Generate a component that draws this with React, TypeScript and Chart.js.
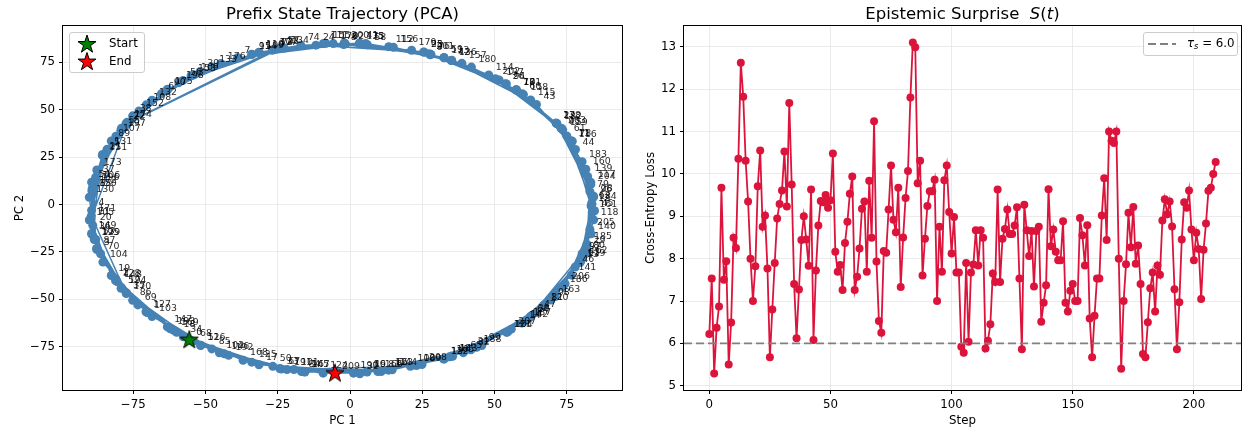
import React, { useEffect, useRef } from "react";
import { Chart, registerables } from "chart.js";

Chart.register(...registerables);

const FONT = '"DejaVu Sans", sans-serif';

// ---------------- data ----------------
const SURPRISE = [
  6.22, 7.53, 5.29, 6.37, 6.87, 9.67, 7.5, 7.94, 5.5, 6.49,
  8.49, 8.25, 10.36, 12.62, 11.82, 10.31, 9.35, 8.0, 7.0, 7.82,
  9.71, 10.55, 8.75, 9.02, 7.77, 5.67, 6.8, 7.9, 8.95, 9.29,
  9.61, 10.53, 9.23, 11.67, 9.75, 7.4, 6.12, 7.27, 8.44, 9.0,
  8.45, 7.83, 9.63, 6.08, 7.72, 8.78, 9.36, 9.33, 9.5, 9.2,
  9.38, 10.48, 8.16, 7.69, 7.85, 7.26, 8.37, 8.87, 9.53, 9.94,
  7.26, 7.57, 8.24, 9.18, 9.35, 7.69, 9.84, 8.49, 11.24, 7.93,
  6.53, 6.25, 8.18, 8.14, 9.16, 10.2, 8.92, 8.62, 9.67, 7.33,
  8.5, 9.43, 10.07, 11.8, 13.1, 12.99, 9.78, 10.31, 7.6, 8.47,
  9.24, 9.59, 9.59, 9.86, 7.0, 8.75, 7.69, 9.85, 10.2, 9.1,
  8.12, 8.98, 7.67, 7.67, 5.92, 5.78, 7.9, 6.04, 7.67, 7.86,
  8.67, 7.84, 8.67, 8.49, 5.88, 6.06, 6.45, 7.65, 7.45, 9.63,
  7.45, 8.47, 8.7, 9.16, 8.58, 8.58, 8.78, 9.21, 7.53, 5.86,
  9.27, 8.67, 8.06, 8.65, 7.34, 8.65, 8.75, 6.51, 6.96, 7.37,
  9.64, 8.29, 8.69, 8.16, 7.96, 7.96, 8.88, 6.96, 6.75, 7.24,
  7.4, 7.0, 7.0, 8.96, 8.55, 7.84, 8.79, 6.59, 5.67, 6.65,
  7.53, 7.53, 9.02, 9.9, 8.44, 11.0, 10.78, 10.73, 11.0, 8.0,
  5.4, 7.0, 7.87, 9.08, 8.27, 9.22, 7.88, 8.31, 7.4, 5.75,
  5.67, 6.5, 7.3, 7.67, 6.75, 7.84, 7.62, 8.9, 9.4, 9.05,
  9.35, 8.76, 7.28, 5.86, 6.97, 8.45, 9.33, 9.2, 9.61, 8.69,
  7.96, 8.61, 8.23, 7.05, 8.21, 8.83, 9.6, 9.67, 10.0, 10.28,
];

const PC1 = [
  -55.6, -70.2, -81.0, -87.6, -89.4, -84.1, -65.3, -38.9, -2.2, 27.7,
  57.6, 76.5, 83.4, 79.6, 59.4, 32.6, 5.8, -31.5, -60.0, -82.6,
  -89.0, -85.6, -77.5, -24.2, -11.8, 25.6, 53.8, 71.4, 84.3, 81.8,
  62.5, 41.7, 3.4, -24.3, -57.7, -77.4, -89.3, -88.0, -75.2, -51.8,
  -26.8, 3.3, 35.0, 64.5, 78.0, 84.6, 77.9, 64.7, 35.2, 5.9,
  -26.7, -51.6, -79.2, -88.0, -89.4, -79.1, -57.8, -24.0, 6.0, 32.5,
  59.6, 75.0, 83.6, 79.9, 62.3, 39.2, 13.5, -23.8, -54.3, -73.4,
  -86.3, -89.6, -77.2, -26.2, -17.0, 5.4, 28.0, 57.4, 76.9, 83.0,
  81.7, 67.2, 41.8, 10.8, -16.8, -47.8, -75.2, -87.7, -89.1, -82.6,
  -63.4, -34.0, -1.6, 25.5, 54.1, 73.2, 84.2, 80.3, 69.5, 45.6,
  20.9, -19.4, -45.2, -68.5, -85.5, -90.2, -88.1, -81.0, -70.5, -54.0,
  -31.5, -9.2, 13.4, 32.6, 48.0, 62.5, 76.7, 83.3, 84.3, 79.8,
  67.0, 54.2, 32.4, 13.2, -9.3, -34.0, -51.7, -70.6, -81.1, -88.1,
  -90.2, -84.0, -68.5, -47.7, -22.8, 3.2, 35.2, 51.6, 71.3, 82.2,
  83.4, 76.6, 60.0, 35.5, 14.6, -15.8, -43.5, -63.2, -80.6, -89.4,
  -89.3, -85.7, -73.0, -55.0, -33.9, -8.4, 15.0, 38.7, 60.0, 73.6,
  81.6, 83.8, 80.5, 71.0, 54.6, 34.4, 9.6, -15.6, -37.0, -61.0,
  -77.4, -89.5, -89.2, -87.6, -77.1, -63.0, -44.7, -26.9, -5.8, 21.3,
  42.0, 57.5, 71.6, 80.3, 83.7, 82.0, 73.6, 61.0, 43.8, 23.0,
  1.2, -21.8, -42.0, -62.2, -79.0, -88.5, -88.4, -79.3, -59.2, -31.4,
  -2.0, 27.4, 50.3, 73.0, 83.3, 83.0, 74.4, 55.8, 24.9, -5.2,
];

const PC2 = [
  -71.6, -57.0, -39.6, -23.8, -3.1, 28.6, 58.4, 77.5, 84.4, 79.0,
  60.6, 33.7, -0.8, -30.6, -62.6, -81.5, -88.2, -84.6, -67.4, -37.5,
  -11.0, 26.4, 42.6, 82.3, 84.1, 80.4, 63.7, 42.8, 4.4, -23.2,
  -59.0, -76.4, -89.3, -86.6, -69.8, -46.6, -15.8, 14.4, 46.8, 70.2,
  81.5, 85.2, 76.0, 52.8, 29.0, -3.3, -33.0, -56.6, -80.0, -88.4,
  -85.4, -74.3, -44.2, -18.4, 11.8, 40.2, 65.5, 82.6, 84.3, 77.6,
  58.4, 36.2, 0.6, -29.4, -59.5, -78.2, -87.3, -86.8, -72.2, -53.0,
  -26.0, -7.5, 43.0, 81.7, 84.0, 84.9, 79.2, 60.4, 33.4, 6.8,
  -25.8, -53.0, -76.7, -88.2, -88.2, -76.2, -50.6, -23.2, 7.0, 33.5,
  60.5, 79.3, 84.8, 80.5, 63.6, 40.1, 3.8, -26.0, -50.4, -74.4,
  -85.4, -87.1, -78.3, -59.1, -30.4, -8.2, 11.5, 36.0, 52.6, 68.4,
  80.4, 85.0, 83.3, 77.4, 68.4, 55.2, 33.2, 11.7, -8.1, -30.0,
  -53.3, -67.5, -81.6, -87.4, -89.0, -83.2, -74.4, -56.6, -40.2, -18.6,
  3.8, 29.2, 55.0, 72.5, 82.6, 84.8, 76.1, 65.7, 43.0, 14.8,
  -15.5, -37.3, -62.1, -80.1, -87.2, -88.3, -78.8, -64.6, -40.7, -15.3,
  7.3, 25.9, 49.4, 67.9, 79.2, 85.1, 83.0, 74.5, 58.0, 39.4,
  18.6, -4.0, -28.0, -48.6, -67.2, -80.4, -88.2, -88.4, -82.2, -66.4,
  -47.0, -6.0, 8.5, 18.2, 43.4, 60.8, 74.4, 81.6, 84.9, 81.4,
  72.5, 60.5, 42.6, 22.6, 0.2, -21.0, -43.3, -61.0, -75.4, -85.0,
  -89.0, -87.1, -79.6, -65.6, -44.0, -18.5, 10.2, 39.0, 64.3, 80.2,
  85.2, 79.6, 66.4, 40.2, 10.6, -13.2, -41.8, -65.8, -84.5, -89.2,
];

const STEPS = SURPRISE.map((_, i) => i);
const TAU_S = 6.0;

const PCA_X_TICKS = [-75, -50, -25, 0, 25, 50, 75];
const PCA_Y_TICKS = [-75, -50, -25, 0, 25, 50, 75];
const STEP_TICKS = [0, 50, 100, 150, 200];
const LOSS_TICKS = [5, 6, 7, 8, 9, 10, 11, 12, 13];

const PCA_X_RANGE = [-99.3, 94.1];
const PCA_Y_RANGE = [-97.9, 94.2];
const STEP_RANGE = [-10.45, 219.45];
const LOSS_RANGE = [4.9, 13.49];

// ---------------- styles ----------------
const STEEL = "#4682b4";
const CRIMSON = "#dc143c";
const GRID = "#e6e6e6";
const TICK_FONT = 11.8;

function fmtTick(v: number) {
  return v < 0 ? "\u2212" + Math.abs(v) : String(v);
}

function starPath(ctx: CanvasRenderingContext2D, cx: number, cy: number, R: number) {
  const r = R * 0.382;
  ctx.beginPath();
  for (let k = 0; k < 10; k++) {
    const rad = k % 2 === 0 ? R : r;
    const a = -Math.PI / 2 + (k * Math.PI) / 5;
    const px = cx + rad * Math.cos(a);
    const py = cy + rad * Math.sin(a);
    if (k === 0) ctx.moveTo(px, py);
    else ctx.lineTo(px, py);
  }
  ctx.closePath();
}

function drawStar(ctx: CanvasRenderingContext2D, cx: number, cy: number, R: number, fill: string) {
  starPath(ctx, cx, cy, R);
  ctx.fillStyle = fill;
  ctx.fill();
  ctx.lineWidth = 1;
  ctx.strokeStyle = "#000";
  ctx.stroke();
}

function makeStar(fill: string) {
  const c = document.createElement("canvas");
  c.width = 24;
  c.height = 24;
  const g = c.getContext("2d")!;
  drawStar(g, 12, 12, 9.5, fill);
  return c;
}

function roundRect(ctx: CanvasRenderingContext2D, x: number, y: number, w: number, h: number, r: number) {
  ctx.beginPath();
  ctx.moveTo(x + r, y);
  ctx.lineTo(x + w - r, y);
  ctx.quadraticCurveTo(x + w, y, x + w, y + r);
  ctx.lineTo(x + w, y + h - r);
  ctx.quadraticCurveTo(x + w, y + h, x + w - r, y + h);
  ctx.lineTo(x + r, y + h);
  ctx.quadraticCurveTo(x, y + h, x, y + h - r);
  ctx.lineTo(x, y + r);
  ctx.quadraticCurveTo(x, y, x + r, y);
  ctx.closePath();
}

type Part = { t: string; it?: boolean; sub?: boolean };

function richWidth(ctx: CanvasRenderingContext2D, parts: Part[], size: number) {
  let w = 0;
  for (const p of parts) {
    const s = p.sub ? size * 0.7 : size;
    ctx.font = `${p.it ? "italic " : ""}${s}px ${FONT}`;
    w += ctx.measureText(p.t).width;
  }
  return w;
}

function drawRich(ctx: CanvasRenderingContext2D, parts: Part[], x: number, y: number, size: number, align: "left" | "center") {
  let cx = align === "center" ? x - richWidth(ctx, parts, size) / 2 : x;
  ctx.textAlign = "left";
  for (const p of parts) {
    const s = p.sub ? size * 0.7 : size;
    ctx.font = `${p.it ? "italic " : ""}${s}px ${FONT}`;
    ctx.fillText(p.t, cx, p.sub ? y + size * 0.22 : y);
    cx += ctx.measureText(p.t).width;
  }
}

function axisOpts(ticksArr: number[], range: number[], isX: boolean, size: number) {
  return {
    type: "linear" as const,
    min: range[0],
    max: range[1],
    afterBuildTicks: (s: any) => {
      s.ticks = ticksArr.map((v) => ({ value: v }));
    },
    afterFit: (s: any) => {
      if (isX) s.height = size;
      else s.width = size;
    },
    grid: {
      color: GRID,
      lineWidth: 0.8,
      drawTicks: true,
      tickLength: 4,
      tickColor: "#000",
      tickWidth: 1,
    },
    border: { display: false },
    ticks: {
      color: "#000",
      font: { family: FONT, size: TICK_FONT },
      padding: 4,
      autoSkip: false,
      maxRotation: 0,
      callback: (v: any) => fmtTick(Number(v)),
    },
  };
}

function drawFrame(chart: any) {
  const ctx = chart.ctx;
  const a = chart.chartArea;
  ctx.save();
  ctx.strokeStyle = "#000";
  ctx.lineWidth = 1;
  ctx.strokeRect(a.left - 0.5, a.top - 0.5, a.right - a.left + 1, a.bottom - a.top + 1);
  ctx.restore();
}

function drawAxisTitles(chart: any, xText: string, yText: string, yX: number) {
  const ctx = chart.ctx;
  const a = chart.chartArea;
  ctx.save();
  ctx.fillStyle = "#000";
  ctx.font = `${TICK_FONT}px ${FONT}`;
  ctx.textAlign = "center";
  ctx.textBaseline = "alphabetic";
  ctx.fillText(xText, (a.left + a.right) / 2, 424);
  ctx.translate(yX, (a.top + a.bottom) / 2);
  ctx.rotate(-Math.PI / 2);
  ctx.fillText(yText, 0, 0);
  ctx.restore();
}

const leftDecor = {
  id: "leftDecor",
  afterDatasetsDraw(chart: any) {
    const ctx = chart.ctx;
    const a = chart.chartArea;
    const meta = chart.getDatasetMeta(1);
    ctx.save();
    ctx.beginPath();
    ctx.rect(a.left, a.top, a.right - a.left, a.bottom - a.top);
    ctx.clip();
    ctx.font = `9.4px ${FONT}`;
    ctx.fillStyle = "rgba(0,0,0,0.85)";
    ctx.textAlign = "left";
    ctx.textBaseline = "alphabetic";
    meta.data.forEach((el: any, i: number) => {
      ctx.fillText(String(STEPS[i]), el.x + 7, el.y - 5);
    });
    ctx.restore();
    drawFrame(chart);
  },
  afterDraw(chart: any) {
    const ctx = chart.ctx;
    const a = chart.chartArea;
    ctx.save();
    ctx.fillStyle = "#000";
    ctx.textBaseline = "alphabetic";
    drawRich(ctx, [{ t: "Prefix State Trajectory (PCA)" }], (a.left + a.right) / 2, 19, 16.5, "center");
    ctx.restore();
    drawAxisTitles(chart, "PC 1", "PC 2", 22.5);

    // legend
    ctx.save();
    roundRect(ctx, 69.5, 32.5, 75, 40, 2.5);
    ctx.fillStyle = "rgba(255,255,255,0.8)";
    ctx.fill();
    ctx.strokeStyle = "#cccccc";
    ctx.lineWidth = 1;
    ctx.stroke();
    drawStar(ctx, 87, 44.5, 9.5, "#008000");
    drawStar(ctx, 87, 62, 9.5, "#ff0000");
    ctx.fillStyle = "#000";
    ctx.font = `${TICK_FONT}px ${FONT}`;
    ctx.textAlign = "left";
    ctx.textBaseline = "middle";
    ctx.fillText("Start", 109, 44);
    ctx.fillText("End", 109, 61.5);
    ctx.restore();
  },
};

const rightDecor = {
  id: "rightDecor",
  afterDatasetsDraw(chart: any) {
    drawFrame(chart);
  },
  afterDraw(chart: any) {
    const ctx = chart.ctx;
    const a = chart.chartArea;
    ctx.save();
    ctx.fillStyle = "#000";
    ctx.textBaseline = "alphabetic";
    drawRich(
      ctx,
      [{ t: "Epistemic Surprise  " }, { t: "S", it: true }, { t: "(" }, { t: "t", it: true }, { t: ")" }],
      (a.left + a.right) / 2,
      19,
      16.5,
      "center"
    );
    ctx.restore();
    drawAxisTitles(chart, "Step", "Cross-Entropy Loss", 13.5);

    // legend
    ctx.save();
    roundRect(ctx, 503.5, 32.5, 94, 23, 2.5);
    ctx.fillStyle = "rgba(255,255,255,0.8)";
    ctx.fill();
    ctx.strokeStyle = "#cccccc";
    ctx.lineWidth = 1;
    ctx.stroke();
    ctx.beginPath();
    ctx.setLineDash([8, 4]);
    ctx.strokeStyle = "#808080";
    ctx.lineWidth = 1.8;
    ctx.moveTo(508, 44);
    ctx.lineTo(536, 44);
    ctx.stroke();
    ctx.setLineDash([]);
    ctx.fillStyle = "#000";
    ctx.textBaseline = "middle";
    drawRich(ctx, [{ t: "\u03c4", it: true }, { t: "s", it: true, sub: true }, { t: " = 6.0" }], 547, 44, TICK_FONT, "left");
    ctx.restore();
  },
};

export default function App() {
  const leftRef = useRef<HTMLCanvasElement>(null);
  const rightRef = useRef<HTMLCanvasElement>(null);

  useEffect(() => {
    const last = PC1.length - 1;
    const traj = PC1.map((x, i) => ({ x, y: PC2[i] }));
    const left = new Chart(leftRef.current!, {
      type: "scatter",
      data: {
        datasets: [
          {
            data: [
              { x: PC1[0], y: PC2[0] },
              { x: PC1[last], y: PC2[last] },
            ],
            pointStyle: [makeStar("#008000"), makeStar("#ff0000")] as any,
            pointRadius: 10,
            showLine: false,
          },
          {
            data: traj,
            showLine: true,
            borderColor: STEEL,
            borderWidth: 1.5,
            backgroundColor: STEEL,
            pointBackgroundColor: STEEL,
            pointRadius: 4.5,
            pointBorderWidth: 0,
          },
        ],
      },
      options: {
        animation: false,
        responsive: false,
        devicePixelRatio: 1,
        events: [],
        layout: { padding: { left: 0, right: 18, top: 26, bottom: 0 } },
        plugins: { legend: { display: false }, tooltip: { enabled: false }, title: { display: false } },
        scales: {
          x: axisOpts(PCA_X_TICKS, PCA_X_RANGE, true, 39),
          y: axisOpts(PCA_Y_TICKS, PCA_Y_RANGE, false, 63),
        } as any,
      },
      plugins: [leftDecor],
    } as any);

    const series = SURPRISE.map((v, i) => ({ x: STEPS[i], y: v }));
    const right = new Chart(rightRef.current!, {
      type: "scatter",
      data: {
        datasets: [
          {
            data: [
              { x: STEP_RANGE[0], y: TAU_S },
              { x: STEP_RANGE[1], y: TAU_S },
            ],
            showLine: true,
            borderColor: "#808080",
            borderWidth: 1.8,
            borderDash: [8, 4],
            pointRadius: 0,
          },
          {
            data: series,
            showLine: true,
            borderColor: CRIMSON,
            borderWidth: 1.8,
            backgroundColor: CRIMSON,
            pointBackgroundColor: CRIMSON,
            pointRadius: 4,
            pointBorderWidth: 0,
          },
        ],
      },
      options: {
        animation: false,
        responsive: false,
        devicePixelRatio: 1,
        events: [],
        layout: { padding: { left: 0, right: 3, top: 26, bottom: 0 } },
        plugins: { legend: { display: false }, tooltip: { enabled: false }, title: { display: false } },
        scales: {
          x: axisOpts(STEP_TICKS, STEP_RANGE, true, 39),
          y: axisOpts(LOSS_TICKS, LOSS_RANGE, false, 44),
        } as any,
      },
      plugins: [rightDecor],
    } as any);

    return () => {
      left.destroy();
      right.destroy();
    };
  }, []);

  return (
    <div style={{ position: "absolute", left: 0, top: 0, width: 1245, height: 429, background: "#fff" }}>
      <canvas ref={leftRef} width={640} height={429} style={{ position: "absolute", left: 0, top: 0 }} />
      <canvas ref={rightRef} width={605} height={429} style={{ position: "absolute", left: 640, top: 0 }} />
    </div>
  );
}
